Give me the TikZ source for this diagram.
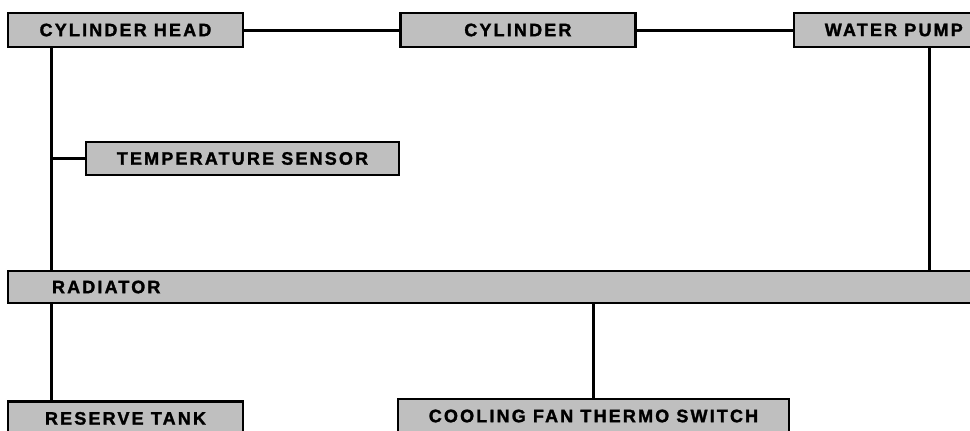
\documentclass[tikz,border=0pt]{standalone}
\usepackage{fontspec}
\usepackage{tikz}
\usetikzlibrary{arrows.meta,positioning}
\newfontfamily\partfont{Liberation Sans}[LetterSpace=12,BoldFont={Liberation Sans Bold},BoldFeatures={FakeBold=1.6}]

\begin{document}
\begin{tikzpicture}[x=1pt,y=-1pt,>=latex]

  \tikzstyle{P}=[draw,line width=2.4pt,rectangle,fill=black!25,minimum width=235pt,
    minimum height=34pt,inner sep=0pt,align=center,
    font=\partfont\bfseries\fontsize{18}{20}\selectfont];
  \tikzstyle{W}=[line width=3pt];

  \path[use as bounding box,clip] (0,0) rectangle (970,431);

  %% top row
  \node [P] at (125.5,30) (chead) {CYLINDER HEAD};
  \node [P,right=155pt of chead] (cyl) {CYLINDER};
  \node [P,right=156pt of cyl,minimum width=200pt] (wpump) {WATER PUMP};

  \node [P,minimum width=313pt,minimum height=33pt] at (242.5,158.5) (tsens) {TEMPERATURE SENSOR};

  %% radiator bar, text on the left
  \node [P,minimum height=32pt,text width=904pt,inner xsep=44pt,align=left] at (504,287) (rad) {RADIATOR};

  %% bottom row
  \node [P,below=352pt of chead] (rtank) {RESERVE TANK};
  \node [P,minimum width=391pt] at (593.5,416) (cfan) {COOLING FAN THERMO SWITCH};

  \coordinate (lbus) at (51,0);
  \coordinate (rbus) at (929,0);

  \draw[W] (chead.east) -- (cyl.west);
  \draw[W] (cyl.east) -- (wpump.west);
  \draw[W] (chead.south -| lbus) -- (rad.north -| lbus);
  \draw[W] (tsens.west) -- (tsens.west -| lbus);
  \draw[W] (wpump.south -| rbus) -- (rad.north -| rbus);
  \draw[W] (rad.south -| lbus) -- (rtank.north -| lbus);
  \draw[W] (rad.south -| cfan.north) -- (cfan.north);

\end{tikzpicture}
\end{document}
